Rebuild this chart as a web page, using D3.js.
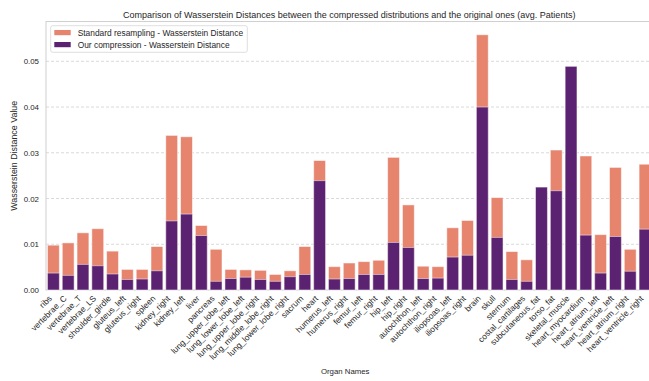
<!DOCTYPE html>
<html><head><meta charset="utf-8">
<script src="https://cdn.jsdelivr.net/npm/d3@7"></script>
<style>
html,body{margin:0;padding:0;background:#fff;}
svg{display:block;font-family:"Liberation Sans",Arial,sans-serif;}
</style></head>
<body><svg id="c" width="649" height="381"></svg>
<script>
const organs = ["ribs","vertebrae_C","vertebrae_T","vertebrae_LS","shoulder_girdle","gluteus_left","gluteus_right","spleen","kidney_right","kidney_left","liver","pancreas","lung_upper_lobe_left","lung_lower_lobe_left","lung_upper_lobe_right","lung_middle_lobe_right","lung_lower_lobe_right","sacrum","heart","humerus_left","humerus_right","femur_left","femur_right","hip_left","hip_right","autochthon_left","autochthon_right","iliopsoas_left","iliopsoas_right","brain","skull","sternum","costal_cartilages","subcutaneous_fat","torso_fat","skeletal_muscle","heart_myocardium","heart_atrium_left","heart_ventricle_left","heart_atrium_right","heart_ventricle_right"];
const standardResampling = [0.0098,0.0103,0.0125,0.0134,0.0085,0.0045,0.0045,0.0095,0.0338,0.0335,0.0141,0.0089,0.0045,0.0044,0.0043,0.0034,0.0042,0.0095,0.0283,0.0051,0.0059,0.0062,0.0065,0.0290,0.0186,0.0052,0.0051,0.0136,0.0152,0.0558,0.0202,0.0084,0.0066,0.0215,0.0306,0.0295,0.0293,0.0121,0.0268,0.0089,0.0275];
const ourCompression = [0.0037,0.0032,0.0056,0.0053,0.0035,0.0023,0.0024,0.0042,0.0151,0.0166,0.0119,0.0019,0.0025,0.0028,0.0023,0.0019,0.0029,0.0034,0.0239,0.0024,0.0025,0.0034,0.0034,0.0104,0.0093,0.0025,0.0026,0.0072,0.0076,0.0400,0.0115,0.0023,0.0019,0.0225,0.0217,0.0489,0.0120,0.0037,0.0117,0.0041,0.0133];
const yTicks = [0,0.01,0.02,0.03,0.04,0.05];
const seriesNames = ["Standard resampling - Wasserstein Distance","Our compression - Wasserstein Distance"];
const colors = ["#e6846e","#5b2271"];

const svg = d3.select("#c");
const L = 46, T = 21.5, R = 652.4, B = 290;
const x = d3.scaleBand().domain(organs).range([L, R]).paddingInner(0.2).paddingOuter(0.1);
const y = d3.scaleLinear().domain([0, 0.0587]).range([B, T]);
const txt = "#262626";

// grid
svg.append("g").selectAll("line").data(yTicks.slice(1)).join("line")
  .attr("x1", L).attr("x2", R).attr("y1", d => y(d)).attr("y2", d => y(d))
  .attr("stroke", "#cfcfcf").attr("stroke-width", 0.8).attr("stroke-dasharray", "3,2");

// frame
svg.append("rect").attr("x", L).attr("y", T).attr("width", R - L).attr("height", B - T)
  .attr("fill", "none").attr("stroke", "#d0d0d0").attr("stroke-width", 1);

// bars
[standardResampling, ourCompression].forEach((vals, k) => {
  svg.append("g").selectAll("rect").data(organs).join("rect")
    .attr("x", d => x(d)).attr("width", x.bandwidth())
    .attr("y", (d, i) => y(vals[i])).attr("height", (d, i) => B - y(vals[i]))
    .attr("fill", colors[k]).attr("stroke", "#fff").attr("stroke-opacity", 0.55).attr("stroke-width", 0.9);
});

// y axis
const ya = svg.append("g").attr("transform", `translate(${L},0)`)
  .call(d3.axisLeft(y).tickValues(yTicks).tickFormat(d3.format(".2f")).tickSize(0).tickPadding(7));
ya.select(".domain").remove();
ya.selectAll("text").attr("font-size", 7.9).attr("fill", txt).attr("font-family", "Liberation Sans, Arial, sans-serif");

// x axis
const xa = svg.append("g").attr("transform", `translate(0,${B})`)
  .call(d3.axisBottom(x).tickSize(0).tickPadding(0));
xa.select(".domain").remove();
xa.selectAll("text").attr("font-size", 8.4).attr("fill", txt).attr("font-family", "Liberation Sans, Arial, sans-serif")
  .attr("text-anchor", "end").attr("dy", null).attr("y", 0)
  .attr("transform", "translate(-1,9) rotate(-45)");

// titles
svg.append("text").attr("x", (L + R) / 2).attr("y", 18).attr("text-anchor", "middle")
  .attr("font-size", 9).attr("fill", txt).text("Comparison of Wasserstein Distances between the compressed distributions and the original ones (avg. Patients)");
svg.append("text").attr("x", (L + R) / 2 - 4).attr("y", 373.5).attr("text-anchor", "middle")
  .attr("font-size", 7.8).attr("fill", txt).text("Organ Names");
svg.append("text").attr("transform", `translate(16.5,${(T + B) / 2}) rotate(-90)`).attr("text-anchor", "middle")
  .attr("font-size", 8.9).attr("fill", txt).text("Wasserstein Distance Value");

// legend
const lg = svg.append("g");
lg.append("rect").attr("x", 50.7).attr("y", 25.7).attr("width", 196.6).attr("height", 26.6).attr("rx", 2)
  .attr("fill", "#fff").attr("fill-opacity", 0.8).attr("stroke", "#d6d6d6").attr("stroke-width", 0.8);
seriesNames.forEach((n, i) => {
  lg.append("rect").attr("x", 54.3).attr("y", 30 + i * 12).attr("width", 16.4).attr("height", 5.2).attr("fill", colors[i]);
  lg.append("text").attr("x", 77.7).attr("y", 35.5 + i * 12).attr("font-size", 8.4).attr("fill", txt).text(n);
});
</script></body></html>
